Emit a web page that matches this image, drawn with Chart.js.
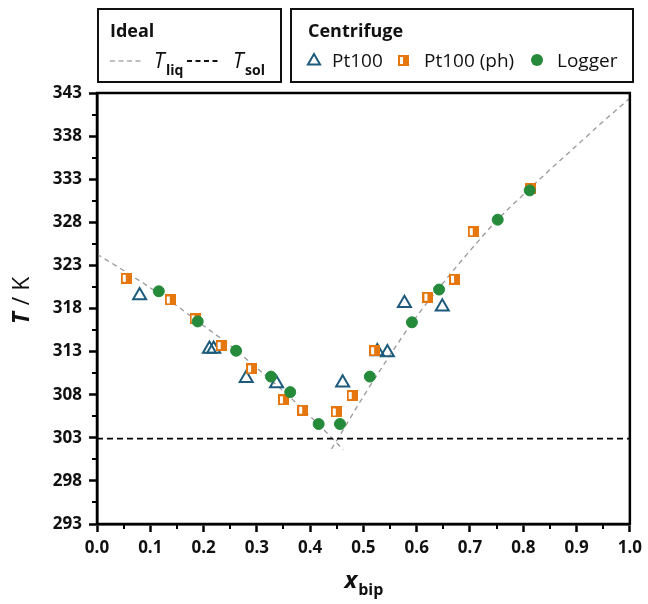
<!DOCTYPE html>
<html>
<head>
<meta charset="utf-8">
<script src="https://cdn.jsdelivr.net/npm/chart.js@4.4.1/dist/chart.umd.min.js"></script>
<style>
  html, body { margin: 0; padding: 0; background: #fff; }
  #wrap { width: 648px; height: 604px; position: relative; }
</style>
</head>
<body>
<div id="wrap"><canvas id="c"></canvas></div>
<script>
// axis ticks
const xTicks = [0, 0.1, 0.2, 0.3, 0.4, 0.5, 0.6, 0.7, 0.8, 0.9, 1.0];
const yTicks = [293, 298, 303, 308, 313, 318, 323, 328, 333, 338, 343];
const xMinor = [0.05, 0.15, 0.25, 0.35, 0.45, 0.55, 0.65, 0.75, 0.85, 0.95];
const yMinor = [295.5, 300.5, 305.5, 310.5, 315.5, 320.5, 325.5, 330.5, 335.5, 340.5];

// ideal liquidus (two branches) and solidus
const liqLeftX = [0, 0.05, 0.1, 0.15, 0.2, 0.25, 0.3, 0.35, 0.4, 0.45, 0.462];
const liqLeftT = [324.3, 322.4, 320.4, 318.3, 316.0, 313.7, 311.1, 308.4, 305.5, 302.4, 301.6];
const liqRightX = [0.44, 0.449, 0.5, 0.55, 0.6, 0.65, 0.7, 0.75, 0.8, 0.85, 0.9, 0.95, 1.0];
const liqRightT = [301.7, 302.6, 307.8, 312.6, 317.1, 321.0, 324.7, 328.2, 331.2, 334.1, 336.9, 339.7, 342.4];
const solX = [0, 1];
const solT = [302.9, 302.9];

// centrifuge measurements
const pt100X = [0.080, 0.211, 0.219, 0.280, 0.337, 0.461, 0.526, 0.545, 0.577, 0.648];
const pt100T = [319.5, 313.3, 313.3, 309.9, 309.3, 309.4, 313.0, 312.9, 318.6, 318.2];
const phX = [0.055, 0.1375, 0.184, 0.233, 0.290, 0.350, 0.386, 0.449, 0.479, 0.521, 0.621, 0.671, 0.706, 0.8135];
const phT = [321.5, 319.0, 316.8, 313.7, 311.0, 307.4, 306.2, 306.0, 307.9, 313.1, 319.3, 321.4, 326.9, 331.9];
const logX = [0.116, 0.189, 0.261, 0.3265, 0.3626, 0.416, 0.456, 0.512, 0.591, 0.642, 0.752, 0.812];
const logT = [320.0, 316.5, 313.1, 310.1, 308.3, 304.6, 304.6, 310.1, 316.4, 320.2, 328.3, 331.7];

const blue = '#1d5b7c';
const orange = '#e6770f';
const green = '#268a3b';
const grey = '#9a9a9a';
const FONT = '"Open Sans", "Noto Sans", sans-serif';

const pts = (xs, ys) => xs.map((x, i) => ({ x: x, y: ys[i] }));

// half-open orange square marker
const phImg = document.createElement('canvas');
phImg.width = 11; phImg.height = 11;
{
  const g = phImg.getContext('2d');
  g.fillStyle = orange;
  g.fillRect(0, 0, 11, 11);
  g.fillStyle = '#fff';
  g.fillRect(2, 2, 3, 7);
}

function triangle(ctx, x, y, r) {
  ctx.beginPath();
  ctx.moveTo(x, y - r);
  ctx.lineTo(x + r * Math.sin(Math.PI * 2 / 3), y + r / 2);
  ctx.lineTo(x - r * Math.sin(Math.PI * 2 / 3), y + r / 2);
  ctx.closePath();
}

const decor = {
  id: 'decor',
  afterDraw(chart) {
    const ctx = chart.ctx, a = chart.chartArea;
    const xs = chart.scales.x, ys = chart.scales.y;
    ctx.save();

    // plot frame
    ctx.strokeStyle = '#000';
    ctx.lineWidth = 2.5;
    ctx.strokeRect(a.left, a.top, a.right - a.left, a.bottom - a.top);

    // minor ticks
    ctx.lineWidth = 2;
    ctx.beginPath();
    xMinor.forEach(v => {
      const px = Math.round(xs.getPixelForValue(v));
      ctx.moveTo(px, a.bottom);
      ctx.lineTo(px, a.bottom + 5);
    });
    yMinor.forEach(v => {
      const py = Math.round(ys.getPixelForValue(v));
      ctx.moveTo(a.left, py);
      ctx.lineTo(a.left - 5, py);
    });
    ctx.stroke();

    ctx.fillStyle = '#111';
    ctx.textBaseline = 'alphabetic';
    ctx.textAlign = 'left';

    // y title: T / K
    ctx.save();
    ctx.translate(21, 301);
    ctx.rotate(-Math.PI / 2);
    ctx.font = 'italic bold 23px ' + FONT;
    const wT = ctx.measureText('T').width;
    ctx.font = '23px ' + FONT;
    const wK = ctx.measureText(' / K').width;
    let sx = -(wT + wK) / 2;
    ctx.font = 'italic bold 23px ' + FONT;
    ctx.fillText('T', sx, 8);
    ctx.font = '23px ' + FONT;
    ctx.fillText(' / K', sx + wT + 1, 8);
    ctx.restore();

    // x title: x_bip
    ctx.font = 'italic bold 24px ' + FONT;
    const wx = ctx.measureText('x').width;
    ctx.font = 'bold 16px ' + FONT;
    const wb = ctx.measureText('bip').width;
    sx = (a.left + a.right) / 2 - (wx + wb) / 2;
    ctx.font = 'italic bold 24px ' + FONT;
    ctx.fillText('x', sx, 588);
    ctx.font = 'bold 16px ' + FONT;
    ctx.fillText('bip', sx + wx + 1, 595);

    // legend boxes
    ctx.strokeStyle = '#111';
    ctx.lineWidth = 2;
    ctx.strokeRect(98, 9, 183, 73);
    ctx.strokeRect(291, 9, 342, 73);

    ctx.font = 'bold 18px ' + FONT;
    ctx.fillText('Ideal', 110, 37);
    ctx.fillText('Centrifuge', 308, 37);

    // Ideal entries
    ctx.setLineDash([5, 3.5]);
    ctx.lineWidth = 1.5;
    ctx.strokeStyle = '#aaa';
    ctx.beginPath(); ctx.moveTo(110, 61); ctx.lineTo(143, 61); ctx.stroke();
    ctx.strokeStyle = '#111';
    ctx.lineWidth = 1.8;
    ctx.beginPath(); ctx.moveTo(187, 61); ctx.lineTo(218, 61); ctx.stroke();
    ctx.setLineDash([]);

    ctx.font = 'italic 21px ' + FONT;
    ctx.fillText('T', 154, 68);
    ctx.fillText('T', 233, 68);
    ctx.font = 'bold 14px ' + FONT;
    ctx.fillText('liq', 166, 75);
    ctx.fillText('sol', 245, 75);

    // Centrifuge entries
    ctx.strokeStyle = blue;
    ctx.lineWidth = 2;
    triangle(ctx, 314, 61, 7);
    ctx.stroke();
    ctx.drawImage(phImg, 398, 55);
    ctx.fillStyle = green;
    ctx.beginPath(); ctx.arc(537, 60, 6, 0, Math.PI * 2); ctx.fill();

    ctx.fillStyle = '#111';
    ctx.font = '19px ' + FONT;
    ctx.fillText('Pt100', 332, 67);
    ctx.fillText('Pt100 (ph)', 424, 67);
    ctx.fillText('Logger', 557, 67);

    ctx.restore();
  }
};

const lineStyle = {
  type: 'line',
  showLine: true,
  fill: false,
  pointRadius: 0,
  borderColor: grey,
  borderWidth: 1.3,
  borderDash: [5, 4],
  cubicInterpolationMode: 'monotone',
  order: 5
};

new Chart(document.getElementById('c'), {
  type: 'scatter',
  data: {
    datasets: [
      Object.assign({ label: 'T_liq left', data: pts(liqLeftX, liqLeftT) }, lineStyle),
      Object.assign({ label: 'T_liq right', data: pts(liqRightX, liqRightT) }, lineStyle),
      {
        type: 'line', label: 'T_sol', data: pts(solX, solT),
        showLine: true, fill: false, pointRadius: 0,
        borderColor: '#000', borderWidth: 1.8, borderDash: [6, 4], order: 4
      },
      {
        label: 'Pt100', data: pts(pt100X, pt100T),
        pointStyle: 'triangle', pointRadius: 7.5,
        borderColor: blue, borderWidth: 2, backgroundColor: 'rgba(0,0,0,0)', order: 3
      },
      {
        label: 'Pt100 (ph)', data: pts(phX, phT),
        pointStyle: phImg, pointRadius: 6, order: 2
      },
      {
        label: 'Logger', data: pts(logX, logT),
        pointStyle: 'circle', pointRadius: 5.5, borderWidth: 1,
        borderColor: green, backgroundColor: green, order: 1
      }
    ]
  },
  options: {
    responsive: true,
    maintainAspectRatio: false,
    animation: false,
    events: [],
    layout: { padding: { left: 0, right: 16, top: 93, bottom: 0 } },
    plugins: { legend: { display: false }, tooltip: { enabled: false } },
    scales: {
      x: {
        type: 'linear', min: 0, max: 1,
        afterFit: s => { s.height = 80; },
        afterBuildTicks: s => { s.ticks = xTicks.map(v => ({ value: v })); },
        grid: { drawOnChartArea: false, drawTicks: true, tickLength: 8, tickWidth: 2.5, tickColor: '#000' },
        border: { display: true, color: '#000', width: 2.5 },
        ticks: {
          padding: 6, color: '#111', maxRotation: 0,
          font: { family: FONT, size: 17, weight: 'bold' },
          callback: v => v.toFixed(1)
        }
      },
      y: {
        type: 'linear', min: 293, max: 343,
        afterFit: s => { s.width = 97; },
        afterBuildTicks: s => { s.ticks = yTicks.map(v => ({ value: v })); },
        grid: { drawOnChartArea: false, drawTicks: true, tickLength: 8, tickWidth: 2.5, tickColor: '#000' },
        border: { display: true, color: '#000', width: 2.5 },
        ticks: {
          padding: 7, color: '#111',
          font: { family: FONT, size: 17, weight: 'bold' },
          callback: v => String(v)
        }
      }
    }
  },
  plugins: [decor]
});
</script>
</body>
</html>
